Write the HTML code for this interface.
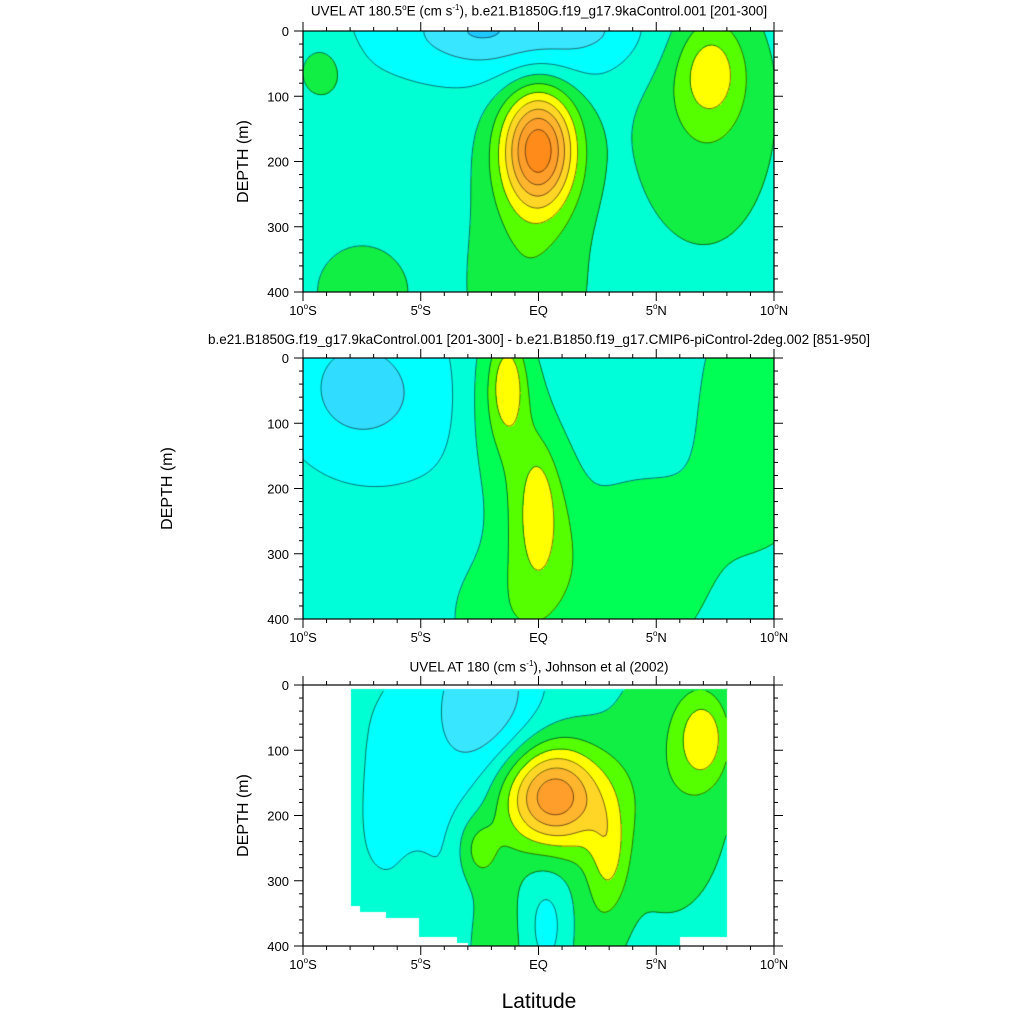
<!DOCTYPE html>
<html><head><meta charset="utf-8">
<style>
body{margin:0;background:#fff;width:1024px;height:1024px;position:relative;overflow:hidden;font-family:"Liberation Sans",sans-serif;}
.t{position:absolute;white-space:nowrap;color:#000;}
canvas{position:absolute;}
svg{position:absolute;left:0;top:0;}
</style></head><body>
<div class="t" style="left:0;width:1078px;text-align:center;top:3px;font-size:13.5px">UVEL AT 180.5<sup style="font-size:8px">o</sup>E (cm s<sup style="font-size:8px">-1</sup>), b.e21.B1850G.f19_g17.9kaControl.001 [201-300]</div>
<div class="t" style="left:0;width:1078px;text-align:center;top:332px;font-size:13.5px">b.e21.B1850G.f19_g17.9kaControl.001 [201-300] - b.e21.B1850.f19_g17.CMIP6-piControl-2deg.002 [851-950]</div>
<div class="t" style="left:0;width:1078px;text-align:center;top:659px;font-size:13.5px">UVEL AT 180 (cm s<sup style="font-size:8px">-1</sup>), Johnson et al (2002)</div>
<div class="t" style="left:0;width:1078px;text-align:center;top:990px;font-size:21px">Latitude</div>
<canvas id="c1" width="471" height="261" style="left:303px;top:31px"></canvas>
<canvas id="c2" width="471" height="261" style="left:303px;top:358px"></canvas>
<canvas id="c3" width="471" height="261" style="left:303px;top:685px"></canvas>
<svg id="ax" width="1024" height="1024"></svg>
<script>
// ---- data ----
const latTicks=[-10,-5,0,5,10];
const latTickLabels=["10°S","5°S","EQ","5°N","10°N"];
const depthTicks=[0,100,200,300,400];
// panel 1 (model, cm/s): blobs [lat, depth, amplitude, latSd, depthSd]
const p1Base=-5;
const p1Lat=[0.0,-0.5,-1.0,-2.5,1.8,7.3,7.0,-9.2,-7.5];
const p1Dep=[180,380,0,0,0,60,120,60,400];
const p1Amp=[68,13,-24,-6,-6,22,13,10,10];
const p1SdLat=[1.1,1.8,4.0,0.6,0.6,1.0,2.2,0.8,1.6];
const p1SdDep=[65,150,55,10,10,55,150,35,60];
const p1Levels=[-30,-20,-10,0,10,20,30,40,50,60];
// panel 2 (difference)
const p2Base=-1.5;
const p2Lat=[-8.0,-6.5,-1.5,-1.3,0.0,0.0,9.5,4.0,-1.5];
const p2Dep=[40,60,60,40,240,235,80,330,400];
const p2Amp=[-2.0,-2.0,3.8,4.0,4.2,3.0,3.0,3.2,2.5];
const p2SdLat=[1.5,2.5,1.1,0.45,1.1,0.4,2.2,2.2,2.0];
const p2SdDep=[60,80,100,45,100,50,170,110,90];
const p2Levels=[-4,-2,0,2,4];
// panel 3 (observations)
const p3Base=-5;
const p3Lat=[0.6,-2.2,-5.5,7.0,5.5,-1.7,2.0,0.4,3.0,-2.6,-8.0,-5.2,-6.3];
const p3Dep=[170,20,160,80,150,400,400,370,260,250,60,320,400];
const p3Amp=[62,-23,-9,26,12,12,10,-12,20,16,7,9,8];
const p3SdLat=[1.5,1.5,2.0,0.8,2.0,1.0,1.0,0.8,0.6,0.6,0.3,0.5,0.6];
const p3SdDep=[55,90,150,50,150,120,120,60,60,35,90,40,50];
const p3Levels=[-30,-20,-10,0,10,20,30,40,50,60];
// observation mask: bottom limits (depth) per latitude segment
const maskLatStart=[-8,-7.6,-6.5,-5.1,-3.5,6.0];
const maskLatEnd=[-7.6,-6.5,-5.1,-3.5,-3.0,8.0];
const maskDepth=[338,347,357,385,395,385];

const colors=["#1ec8ff","#38e6ff","#00ffff","#00ffd2","#11ee44","#55ff00","#ffff00","#ffd626","#ffb52e","#ff9e2a","#ff8c1a"];
const colors2=["#30dcff","#00ffff","#00ffd8","#00ff55","#55ff00","#ffff00"];

const W=471,H=261;
const xOf=lat=>(lat+10)/20*W;
const yOf=d=>d/400*H;
function field(base,la,de,am,sl,sd){
  return (lat,dep)=>{let v=base;for(let i=0;i<la.length;i++){const a=(lat-la[i])/sl[i],b=(dep-de[i])/sd[i];v+=am[i]*Math.exp(-0.5*(a*a+b*b));}return v;};
}
function masked3(lat,dep){
  if(lat<-8||lat>8||dep<6)return true;
  for(let i=0;i<maskLatStart.length;i++)if(lat>=maskLatStart[i]&&lat<maskLatEnd[i]&&dep>maskDepth[i])return true;
  return false;
}
function draw(id,f,levels,cols,mask){
  const cv=document.getElementById(id),ctx=cv.getContext('2d');
  const img=ctx.createImageData(W,H);
  for(let y=0;y<H;y++)for(let x=0;x<W;x++){
    const lat=-10+x/W*20,dep=y/H*400,o=(y*W+x)*4;
    if(mask&&mask(lat,dep)){img.data[o]=img.data[o+1]=img.data[o+2]=255;img.data[o+3]=255;continue;}
    const v=f(lat,dep);let k=0;while(k<levels.length&&v>=levels[k])k++;
    const c=cols[k];img.data[o]=parseInt(c.substr(1,2),16);img.data[o+1]=parseInt(c.substr(3,2),16);img.data[o+2]=parseInt(c.substr(5,2),16);img.data[o+3]=255;
  }
  ctx.putImageData(img,0,0);
  const s=3,nx=Math.ceil(W/s)+1,ny=Math.ceil(H/s)+1,g=[];
  for(let j=0;j<ny;j++){g[j]=[];for(let i=0;i<nx;i++){const lat=-10+i*s/W*20,dep=j*s/H*400;g[j][i]=(mask&&mask(lat,dep))?NaN:f(lat,dep);}}
  ctx.strokeStyle="rgba(0,0,0,0.75)";ctx.lineWidth=0.7;ctx.beginPath();
  for(const L of levels){
    for(let j=0;j<ny-1;j++)for(let i=0;i<nx-1;i++){
      const a=g[j][i],b=g[j][i+1],c=g[j+1][i+1],d=g[j+1][i];
      if(isNaN(a)||isNaN(b)||isNaN(c)||isNaN(d))continue;
      const pts=[];
      const e=(v1,v2,x1,y1,x2,y2)=>{if((v1<L)!==(v2<L)){const t=(L-v1)/(v2-v1);pts.push([x1+(x2-x1)*t,y1+(y2-y1)*t]);}};
      const x0=i*s,y0=j*s;
      e(a,b,x0,y0,x0+s,y0);e(b,c,x0+s,y0,x0+s,y0+s);e(d,c,x0,y0+s,x0+s,y0+s);e(a,d,x0,y0,x0,y0+s);
      for(let k=0;k+1<pts.length;k+=2){ctx.moveTo(pts[k][0],pts[k][1]);ctx.lineTo(pts[k+1][0],pts[k+1][1]);}
    }
  }
  ctx.stroke();
}
draw('c1',field(p1Base,p1Lat,p1Dep,p1Amp,p1SdLat,p1SdDep),p1Levels,colors,null);
draw('c2',field(p2Base,p2Lat,p2Dep,p2Amp,p2SdLat,p2SdDep),p2Levels,colors2,null);
draw('c3',field(p3Base,p3Lat,p3Dep,p3Amp,p3SdLat,p3SdDep),p3Levels,colors,masked3);

// ---- axes ----
const svg=document.getElementById('ax'),NS="http://www.w3.org/2000/svg";
function mk(tag,attrs,parent){const e=document.createElementNS(NS,tag);for(const k in attrs)e.setAttribute(k,attrs[k]);(parent||svg).appendChild(e);return e;}
const tops=[31,358,685],L0=303,R0=774;
const ylabX=[242,166,242];
tops.forEach((T,p)=>{
  const g=mk('g',{});
  
  
  const B=T+H;
  mk('rect',{x:L0,y:T,width:R0-L0,height:H,fill:'none',stroke:'#000','stroke-width':1.2},g);
  for(let lat=-10;lat<=10;lat++){
    const x=L0+xOf(lat),maj=lat%5===0,len=maj?9:4;
    mk('line',{x1:x,y1:T,x2:x,y2:T-len,stroke:'#000','stroke-width':1},g);
    mk('line',{x1:x,y1:B,x2:x,y2:B+len,stroke:'#000','stroke-width':1},g);
  }
  latTicks.forEach((lat,i)=>{
    const t=mk('text',{x:L0+xOf(lat),y:B+23,'text-anchor':'middle','font-size':13,'font-family':'Liberation Sans'},g);
    
    
    const s=latTickLabels[i];
    if(s.indexOf('°')>=0){const parts=s.split('°');t.appendChild(document.createTextNode(parts[0]));mk('tspan',{'font-size':8,dy:-6},t).textContent='o';mk('tspan',{dy:6},t).textContent=parts[1];}
    else t.textContent=s;
  });
  for(let d=0;d<=400;d+=20){
    const y=T+yOf(d),maj=d%100===0,len=maj?9:4;
    mk('line',{x1:L0,y1:y,x2:L0-len,y2:y,stroke:'#000','stroke-width':1},g);
    mk('line',{x1:R0,y1:y,x2:R0+len,y2:y,stroke:'#000','stroke-width':1},g);
  }
  depthTicks.forEach(d=>{
    const t=mk('text',{x:L0-14,y:T+yOf(d)+5,'text-anchor':'end','font-size':13,'font-family':'Liberation Sans'},g);
    
    
    t.textContent=d;
  });
  const yt=mk('text',{x:ylabX[p],y:T+H/2,'text-anchor':'middle','font-size':16,'font-family':'Liberation Sans',transform:`rotate(-90 ${ylabX[p]} ${T+H/2})`,dy:6},g);
  
  
  yt.textContent='DEPTH (m)';
});
</script>
</body></html>
